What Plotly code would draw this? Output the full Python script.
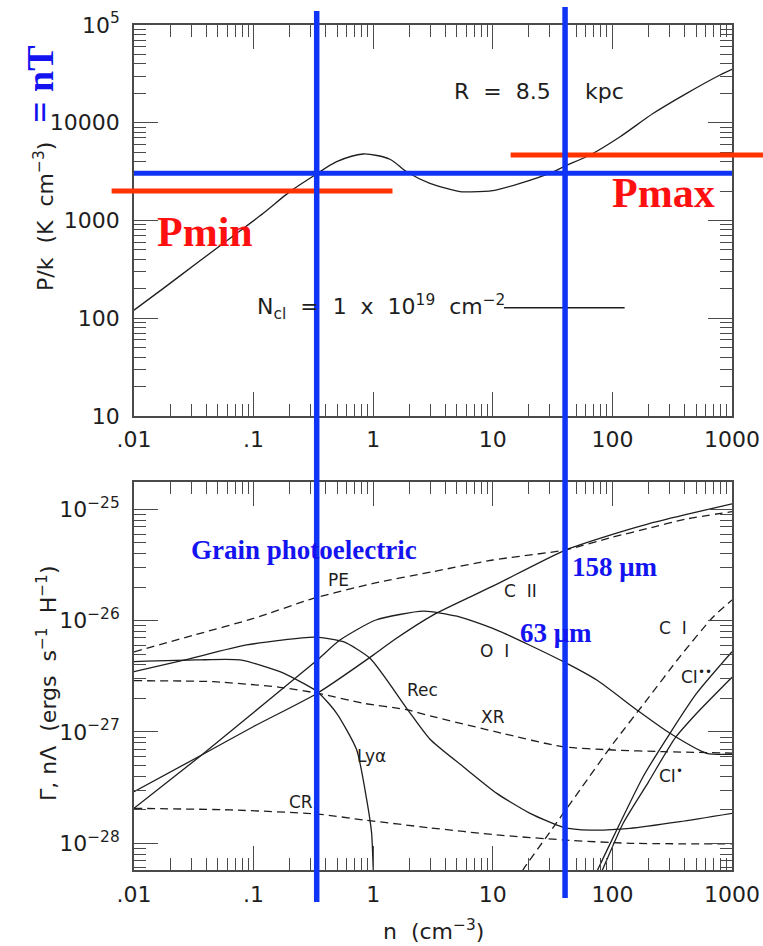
import numpy as np
import plotly.graph_objects as go

# ---------------- top panel: thermal pressure vs density (R = 8.5 kpc)
n_pk = [0.01, 0.0176, 0.0334, 0.0636, 0.1205, 0.201, 0.326, 0.495, 0.826, 1.38,
        1.90, 2.98, 5.32, 6.44, 10.0, 16.9, 32.0, 40.2, 65.0, 116, 220, 418, 794, 1000]
p_k = [121, 202, 365, 658, 1186, 1973, 2917, 3995, 4790, 4230,
       3150, 2400, 1973, 1965, 2020, 2400, 3150, 3610, 4680, 7200, 12500, 20000, 30800, 35200]

# two-phase markers
n_marks = [0.337, 40.2]        # densities of the equilibrium points
p_eq = 3040                    # equilibrium pressure P = nT
p_min, p_max = 2000, 4680
pmin_span = [0.0065, 1.45]     # density extent of the Pmin bar
pmax_span = [14.1, 1816]       # density extent of the Pmax bar
ncl_key_n = [12.4, 126.5]      # line sample next to the N_cl label
ncl_key_p = [128, 128]

# ---------------- bottom panel: heating / cooling rates (erg s^-1 H^-1)
n_pe = [0.01, 0.0316, 0.1, 0.316, 1, 3.16, 10, 40, 100, 200, 400, 1000]
g_pe = [5.25e-27, 7.41e-27, 1.047e-26, 1.585e-26, 2.163e-26, 2.754e-26,
        3.508e-26, 4.315e-26, 5.62e-26, 6.76e-26, 8.13e-26, 9.55e-26]

n_cii = [0.01, 0.0368, 0.1, 0.341, 1, 1.49, 3.16, 10, 40.4, 100, 200, 400, 1000]
l_cii = [2.91e-28, 6.21e-28, 1.12e-27, 2.23e-27, 4.9e-27, 6.70e-27, 1.122e-26,
         2.04e-26, 4.31e-26, 5.96e-26, 7.41e-26, 8.91e-26, 1.122e-25]

n_oi = [0.01, 0.0368, 0.1, 0.341, 0.527, 1.054, 2.63, 5.01, 10.8, 38.9, 74, 160, 303, 614, 1000]
l_oi = [2.06e-28, 6.21e-28, 1.496e-27, 4.44e-27, 6.70e-27, 1.014e-26, 1.216e-26,
        1.096e-26, 8.24e-27, 4.29e-27, 2.93e-27, 1.578e-27, 9.73e-28, 6.44e-28, 6.31e-28]

n_rec = [0.01, 0.0267, 0.0875, 0.326, 0.562, 0.94, 1.905, 2.985, 5.66, 10.8,
         20.5, 38.9, 65, 140, 367, 1000]
l_rec = [3.48e-27, 4.44e-27, 6.05e-27, 7.10e-27, 6.47e-27, 4.59e-27, 1.633e-27,
         8.61e-28, 4.88e-28, 2.81e-28, 1.858e-28, 1.393e-28, 1.315e-28, 1.361e-28,
         1.563e-28, 1.858e-28]

n_lya = [0.01, 0.0334, 0.0769, 0.166, 0.341, 0.495, 0.728, 0.883, 0.970, 1.002, 1.047]
l_lya = [4.29e-27, 4.44e-27, 4.44e-27, 3.48e-27, 2.30e-27, 1.472e-27, 6.89e-28,
         2.45e-28, 1.23e-28, 5.75e-29, 2.5e-29]

n_xr = [0.01, 0.046, 0.166, 0.341, 0.826, 1.905, 2.985, 12.0, 38.0, 102, 267, 1000]
g_xr = [2.89e-27, 2.83e-27, 2.52e-27, 2.23e-27, 1.811e-27, 1.585e-27, 1.396e-27,
        9.73e-28, 7.38e-28, 6.89e-28, 6.65e-28, 6.46e-28]

n_cr = [0.01, 0.0635, 0.341, 0.826, 2.985, 10.8, 38.9, 140, 1000]
g_cr = [2.06e-28, 1.995e-28, 1.832e-28, 1.622e-28, 1.377e-28, 1.189e-28, 1.072e-28,
        1.0e-28, 9.86e-29]

n_ci = [14.1, 17.5, 28.2, 53.6, 102, 194, 367, 698, 1000]
l_ci = [3.5e-29, 5.56e-29, 1.148e-28, 3.02e-28, 7.94e-28, 1.941e-27, 4.75e-27,
        1.086e-26, 1.535e-26]

n_ci2 = [63, 74, 108.6, 181, 303, 507, 1000]
l_ci2 = [3.8e-29, 5.56e-29, 1.315e-28, 3.98e-28, 9.73e-28, 2.23e-27, 5.26e-27]

n_ci1 = [69, 81.3, 123, 200, 333, 507, 1000]
l_ci1 = [3.8e-29, 5.56e-29, 1.514e-28, 3.55e-28, 8.77e-28, 1.472e-27, 3.10e-27]

# tick labels
x_tickvals = [0.01, 0.1, 1, 10, 100, 1000]
x_ticktext = [".01", ".1", "1", "10", "100", "1000"]
p_tickvals = [10, 100, 1000, 1e4, 1e5]
p_ticktext = ["10", "100", "1000", "10000", "10<sup>5</sup>"]
l_tickvals = [1e-28, 1e-27, 1e-26, 1e-25]
l_ticktext = ["10<sup>\u221228</sup>", "10<sup>\u221227</sup>",
              "10<sup>\u221226</sup>", "10<sup>\u221225</sup>"]

# curve labels: (text, n, rate)
curve_labels = [
    ("PE", 0.508, 2.32e-26),
    ("C\u00a0\u00a0II", 16.9, 1.85e-26),
    ("O\u00a0\u00a0I", 10.4, 5.35e-27),
    ("Rec", 2.56, 2.38e-27),
    ("XR", 10.0, 1.35e-27),
    ("Ly\u03b1", 0.972, 6.08e-28),
    ("CR", 0.251, 2.37e-28),
    ("C\u00a0\u00a0I", 321, 8.59e-27),
    ("CI<sup>\u2022\u2022</sup>", 509, 3.18e-27),
    ("CI<sup>\u2022</sup>", 309, 4.11e-28),
]

FONT = "DejaVu Sans"
SERIF = "Liberation Serif"
AX = "#4a4a4a"
INK = "#1e1e1e"
BLUE = "#0f34f5"
BLUE_TXT = "#1414f0"
RED = "#ff3300"
RED_TXT = "#ff1010"
X_RANGE = [-2, 3]


def n_to_paper(n):
    return (np.log10(n) - X_RANGE[0]) / (X_RANGE[1] - X_RANGE[0])


fig = go.Figure()

fig.add_trace(go.Scatter(x=n_pk, y=p_k, mode="lines", xaxis="x", yaxis="y",
                         line=dict(color=INK, width=1.3, shape="spline", smoothing=0.8)))
fig.add_trace(go.Scatter(x=ncl_key_n, y=ncl_key_p, mode="lines", xaxis="x", yaxis="y",
                         line=dict(color=INK, width=1.3)))

solid = [(n_cii, l_cii), (n_oi, l_oi), (n_rec, l_rec), (n_lya, l_lya),
         (n_ci2, l_ci2), (n_ci1, l_ci1)]
dashed = [(n_pe, g_pe), (n_xr, g_xr), (n_cr, g_cr), (n_ci, l_ci)]
for xs, ys in solid:
    fig.add_trace(go.Scatter(x=xs, y=ys, mode="lines", xaxis="x2", yaxis="y2",
                             line=dict(color=INK, width=1.3, shape="spline", smoothing=0.6)))
for xs, ys in dashed:
    fig.add_trace(go.Scatter(x=xs, y=ys, mode="lines", xaxis="x2", yaxis="y2",
                             line=dict(color=INK, width=1.3, dash="8px,5px",
                                       shape="spline", smoothing=0.6)))

axis_style = dict(
    type="log", showline=True, linecolor=AX, linewidth=1.8, mirror="allticks",
    ticks="inside", ticklen=24, tickwidth=1.4, tickcolor=AX,
    showgrid=False, zeroline=False, automargin=False,
    tickfont=dict(family=FONT, size=22, color=INK),
    minor=dict(ticks="inside", ticklen=12, tickwidth=1.2, tickcolor=AX,
               dtick="D1", showgrid=False),
)

fig.update_layout(
    width=763, height=946,
    margin=dict(l=134, r=31.3, t=25, b=76, autoexpand=False),
    paper_bgcolor="white", plot_bgcolor="white",
    showlegend=False,
    font=dict(family=FONT, color=INK),
    xaxis=dict(axis_style, domain=[0, 1], range=X_RANGE, anchor="y",
               tickmode="array", tickvals=x_tickvals, ticktext=x_ticktext,
               ticklabelstandoff=3),
    yaxis=dict(axis_style, domain=[0.5373, 1], range=[1, 5], anchor="x",
               tickmode="array", tickvals=p_tickvals, ticktext=p_ticktext,
               ticklabelstandoff=8),
    xaxis2=dict(axis_style, domain=[0, 1], range=X_RANGE, anchor="y2",
                tickmode="array", tickvals=x_tickvals, ticktext=x_ticktext,
                ticklabelstandoff=4),
    yaxis2=dict(axis_style, domain=[0, 0.4588], range=[-28.24, -24.757], anchor="x2",
                tickmode="array", tickvals=l_tickvals, ticktext=l_ticktext,
                ticklabelstandoff=8),
)

# Pmin / Pmax bars (may extend past the frame), then the P = nT line and density markers
shapes = [
    dict(type="line", xref="paper", yref="y", x0=n_to_paper(pmin_span[0]),
         x1=n_to_paper(pmin_span[1]), y0=p_min, y1=p_min, line=dict(color=RED, width=5)),
    dict(type="line", xref="paper", yref="y", x0=n_to_paper(pmax_span[0]),
         x1=n_to_paper(pmax_span[1]), y0=p_max, y1=p_max, line=dict(color=RED, width=5)),
    dict(type="line", xref="x domain", yref="y", x0=0, x1=1, y0=p_eq, y1=p_eq,
         line=dict(color=BLUE, width=5)),
]
marker_top = [1.0166, 1.0213]
marker_bottom = [-0.0379, -0.0331]
for nm, yt, yb in zip(n_marks, marker_top, marker_bottom):
    shapes.append(dict(type="line", xref="x", yref="paper", x0=nm, x1=nm, y0=yb, y1=yt,
                       line=dict(color=BLUE, width=5.5)))
fig.update_layout(shapes=shapes)

ann = []
lg = np.log10
# top panel texts
ann.append(dict(x=lg(32.1), y=lg(20800), xref="x", yref="y", text="R\u00a0\u00a0=\u00a0\u00a08.5",
                xanchor="right", yanchor="middle", showarrow=False,
                font=dict(family=FONT, size=22, color=INK)))
ann.append(dict(x=lg(56.8), y=lg(20800), xref="x", yref="y", text="kpc",
                xanchor="left", yanchor="middle", showarrow=False,
                font=dict(family=FONT, size=22, color=INK)))
ann.append(dict(x=lg(0.1028), y=lg(130), xref="x", yref="y",
                text="N<sub>cl</sub>\u00a0\u00a0=\u00a0\u00a01\u00a0\u00a0x\u00a0\u00a010<sup>19</sup>\u00a0\u00a0cm<sup>\u22122</sup>",
                xanchor="left", yanchor="middle", showarrow=False,
                font=dict(family=FONT, size=22, color=INK)))
ann.append(dict(x=lg(0.0393), y=lg(762), xref="x", yref="y", text="<b>Pmin</b>",
                showarrow=False, font=dict(family=SERIF, size=42, color=RED_TXT)))
ann.append(dict(x=lg(270), y=lg(1910), xref="x", yref="y", text="<b>Pmax</b>",
                showarrow=False, font=dict(family=SERIF, size=42, color=RED_TXT)))

# bottom panel texts
for txt, nx, ly in curve_labels:
    ann.append(dict(x=lg(nx), y=lg(ly), xref="x2", yref="y2", text=txt, showarrow=False,
                    font=dict(family=FONT, size=17, color=INK)))
ann.append(dict(x=lg(0.262), y=lg(4.32e-26), xref="x2", yref="y2",
                text="<b>Grain photoelectric</b>", showarrow=False,
                font=dict(family=SERIF, size=27, color=BLUE_TXT)))
ann.append(dict(x=lg(44.2), y=lg(3.03e-26), xref="x2", yref="y2", xanchor="left",
                text="<b>158 \u03bcm</b>", showarrow=False,
                font=dict(family=SERIF, size=27, color=BLUE_TXT)))
ann.append(dict(x=lg(33.7), y=lg(7.76e-27), xref="x2", yref="y2",
                text="<b>63 \u03bcm</b>", showarrow=False,
                font=dict(family=SERIF, size=27, color=BLUE_TXT)))

# axis titles
title_common = dict(xref="paper", yref="paper", xanchor="center", yanchor="middle",
                    showarrow=False)
ann.append(dict(title_common, x=-0.1506, y=0.774, textangle=-90,
                text="P/k\u00a0\u00a0(K\u00a0\u00a0cm<sup>\u22123</sup>)",
                font=dict(family=FONT, size=22, color=INK)))
ann.append(dict(title_common, x=-0.1573, y=0.930, textangle=-90,
                text="<b>=\u00a0nT</b>",
                font=dict(family=SERIF, size=38, color=BLUE_TXT)))
ann.append(dict(title_common, x=-0.1456, y=0.2213, textangle=-90,
                text="\u0393,\u00a0n\u039b\u00a0\u00a0(ergs\u00a0\u00a0s<sup>\u22121</sup>\u00a0\u00a0H<sup>\u22121</sup>)",
                font=dict(family=FONT, size=22, color=INK)))
ann.append(dict(title_common, x=0.5003, y=-0.071,
                text="n\u00a0\u00a0(cm<sup>\u22123</sup>)",
                font=dict(family=FONT, size=22, color=INK)))
fig.update_layout(annotations=ann)

fig.write_html("out.html")
